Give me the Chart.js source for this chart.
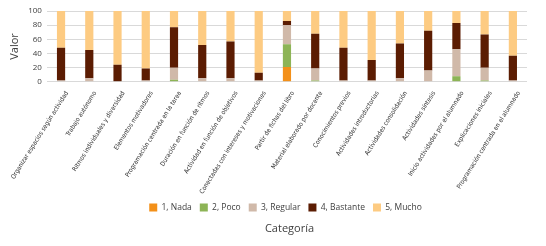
<!DOCTYPE html>
<html>
<head>
<meta charset="utf-8">
<script src="https://cdn.jsdelivr.net/npm/chart.js@4.4.1/dist/chart.umd.min.js"></script>
<style>
  html, body { margin: 0; padding: 0; background: #ffffff; }
  #grafico { display: block; }
</style>
</head>
<body>
<canvas id="grafico" width="546" height="246"></canvas>
<script>
// categorias do eixo x
var categorias = [
    'Organizar espacios según actividad',
    'Trabajo autónomo',
    'Ritmos individuales y diversidad',
    'Elementos motivadores',
    'Programación centrada en la tarea',
    'Duración en función de ritmos',
    'Actividad en función de objetivos',
    'Conectadas con intereses y motivaciones',
    'Partir de fichas del libro',
    'Material elaborado por docente',
    'Conocimientos previos',
    'Actividades introductorias',
    'Actividades consolidación',
    'Actividades síntesis',
    'Inicio actividades por el alumnado',
    'Explicaciones iniciales',
    'Programación centrada en el alumnado'
];

// valores (%) de cada resposta
var nada     = [0, 0, 0, 0, 0, 0, 0, 0, 21, 0, 0, 0, 0, 0, 1, 0, 0];
var poco     = [0, 0, 0, 0, 3, 0, 0, 0, 32, 2, 0, 0, 0, 0, 7, 2, 0];
var regular  = [2, 5, 1, 2, 17, 5, 5, 2, 27, 17, 2, 2, 5, 16, 38, 18, 2];
var bastante = [46, 40, 23, 17, 57, 47, 52, 11, 6, 49, 46, 29, 49, 56, 37, 47, 35];
var mucho    = [52, 55, 76, 81, 23, 48, 43, 87, 14, 32, 52, 69, 46, 28, 17, 33, 63];

var yTicks = [0, 20, 40, 60, 80, 100];

var nomes = ['1, Nada', '2, Poco', '3, Regular', '4, Bastante', '5, Mucho'];
var cores = ['#f39019', '#8db456', '#d0b9a9', '#5b1c02', '#fdcb82'];

function montarDatasets() {
    var series = [nada, poco, regular, bastante, mucho];
    var lista = [];
    for (var i = 0; i < series.length; i++) {
        lista.push({
            label: nomes[i],
            data: series[i],
            backgroundColor: cores[i],
            borderWidth: 0,
            barPercentage: 0.29,
            categoryPercentage: 1.0
        });
    }
    return lista;
}

// legenda e titulo ficam um pouco a direita no original
const deslocarRodape = {
    id: 'deslocarRodape',
    afterLayout: function (chart) {
        if (chart.legend) {
            chart.legend.left += 18;
            chart.legend.right += 18;
        }
        if (chart.titleBlock) {
            chart.titleBlock.left += 22;
            chart.titleBlock.right += 22;
        }
    }
};

var fonteTexto = "'DejaVu Sans Condensed', 'Liberation Sans Narrow', sans-serif";

const config = {
    type: 'bar',
    data: {
        labels: categorias,
        datasets: montarDatasets()
    },
    options: {
        responsive: false,
        animation: false,
        layout: { padding: { left: 8, right: 19, top: 11, bottom: 4 } },
        scales: {
            x: {
                stacked: true,
                grid: { display: false },
                border: { display: false },
                ticks: {
                    color: '#333333',
                    font: { family: fonteTexto, size: 6.4 },
                    minRotation: 58,
                    maxRotation: 58,
                    autoSkip: false,
                    labelOffset: 6,
                    padding: 0
                }
            },
            y: {
                stacked: true,
                min: 0,
                max: 100,
                afterBuildTicks: function (axis) {
                    axis.ticks = yTicks.map(function (v) { return { value: v }; });
                },
                grid: { color: '#d9d9d9', lineWidth: 1, drawTicks: false },
                border: { display: false },
                ticks: {
                    color: '#404040',
                    autoSkip: false,
                    font: { family: "'Open Sans', sans-serif", size: 8 },
                    padding: 5
                },
                title: {
                    display: true,
                    text: 'Valor',
                    color: '#404040',
                    font: { family: "'Open Sans', sans-serif", size: 11 },
                    padding: { top: 0, bottom: 2 }
                }
            }
        },
        plugins: {
            legend: {
                position: 'bottom',
                labels: {
                    boxWidth: 8,
                    boxHeight: 8,
                    padding: 8,
                    color: '#404040',
                    font: { family: "'Open Sans', sans-serif", size: 8.5 }
                }
            },
            title: {
                display: true,
                position: 'bottom',
                text: 'Categoría',
                color: '#404040',
                font: { family: "'Open Sans', sans-serif", size: 11, weight: 'normal' },
                padding: { top: 0, bottom: 7 }
            },
            tooltip: { enabled: false }
        }
    },
    plugins: [deslocarRodape]
};

let grafico = new Chart(document.getElementById('grafico'), config);
</script>
</body>
</html>
